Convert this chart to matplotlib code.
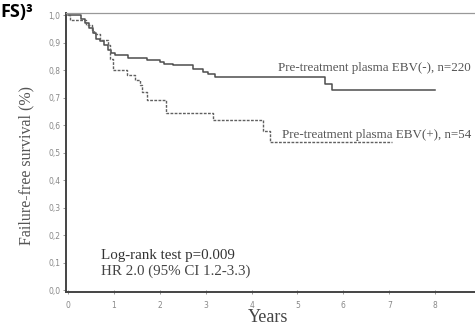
import matplotlib
matplotlib.use("Agg")
import matplotlib.pyplot as plt

# Kaplan-Meier steps (years, survival)
neg_t = [0, 0.28, 0.37, 0.45, 0.55, 0.62, 0.70, 0.78, 0.87, 0.95, 1.02, 1.30,
         1.72, 2.00, 2.10, 2.30, 2.72, 2.94, 3.05, 3.20, 5.60, 5.76, 8.0]
neg_s = [1.0, 0.985, 0.97, 0.953, 0.935, 0.915, 0.905, 0.89, 0.875, 0.862,
         0.855, 0.845, 0.836, 0.829, 0.822, 0.818, 0.804, 0.793, 0.785, 0.775,
         0.75, 0.727, 0.727]

pos_t = [0, 0.05, 0.40, 0.52, 0.58, 0.70, 0.87, 0.92, 0.98, 1.28, 1.46, 1.57,
         1.62, 1.72, 2.13, 3.16, 4.25, 4.40, 7.06]
pos_s = [1.0, 0.981, 0.963, 0.945, 0.93, 0.91, 0.89, 0.84, 0.80, 0.782, 0.764,
         0.745, 0.72, 0.69, 0.643, 0.618, 0.58, 0.538, 0.538]

xticks = [0, 1, 2, 3, 4, 5, 6, 7, 8]
yticks = [0.0, 0.1, 0.2, 0.3, 0.4, 0.5, 0.6, 0.7, 0.8, 0.9, 1.0]
ytick_labels = [f"{v:.1f}".replace(".", ",") for v in yticks]

neg_label = "Pre-treatment plasma EBV(-), n=220"
pos_label = "Pre-treatment plasma EBV(+), n=54"
stats_lines = ["Log-rank test p=0.009", "HR 2.0 (95% CI 1.2-3.3)"]

serif = "Liberation Serif"

fig = plt.figure(figsize=(4.75, 3.34), dpi=100)
ax = fig.add_axes([66 / 475, 1 - 292 / 334, 429 / 475, 279.5 / 334])

ax.step(neg_t, neg_s, where="post", color="#4d4d4d", lw=1.1)
ax.step(pos_t, pos_s, where="post", color="#606060", lw=1.0,
        linestyle=(0, (2, 1)))

ax.set_xlim(-0.04, 9.3)
ax.set_ylim(-0.007, 1.01)
ax.set_xticks(xticks)
ax.set_yticks(yticks)
ax.set_yticklabels(ytick_labels)

for side in ["left", "bottom"]:
    ax.spines[side].set_color("#444444")
    ax.spines[side].set_linewidth(1.4)
ax.spines["top"].set_color("#999999")
ax.spines["top"].set_linewidth(0.9)
ax.spines["right"].set_visible(False)

ax.tick_params(axis="both", labelsize=5.5, labelcolor="#888888",
               color="#888888", width=0.6, length=2.5)
ax.tick_params(axis="x", direction="inout", pad=5)
ax.tick_params(axis="y", pad=1.5)

ax.text(4.58, 0.807, neg_label, family=serif, fontsize=9.4, color="#555555",
        ha="left", va="center")
ax.text(4.66, 0.563, pos_label, family=serif, fontsize=9.4, color="#555555",
        ha="left", va="center")
ax.text(0.72, 0.124, stats_lines[0], family=serif, fontsize=10.8,
        color="#333333", ha="left", va="center")
ax.text(0.72, 0.069, stats_lines[1], family=serif, fontsize=10.8,
        color="#444444", ha="left", va="center")

fig.text(26 / 475, 1 - 165 / 334, "Failure-free survival (%)", family=serif,
         fontsize=11.5, color="#555555", rotation=90, ha="center",
         va="center")
fig.text(268 / 475, 1 - 318 / 334, "Years", family=serif, fontsize=13,
         color="#444444", ha="center", va="center")

fig.text(0.0, 1 - 3 / 334, "FS)³", family="Open Sans", fontweight="bold",
         fontsize=13, color="black", ha="left", va="top")

fig.savefig("out.png", dpi=100)
